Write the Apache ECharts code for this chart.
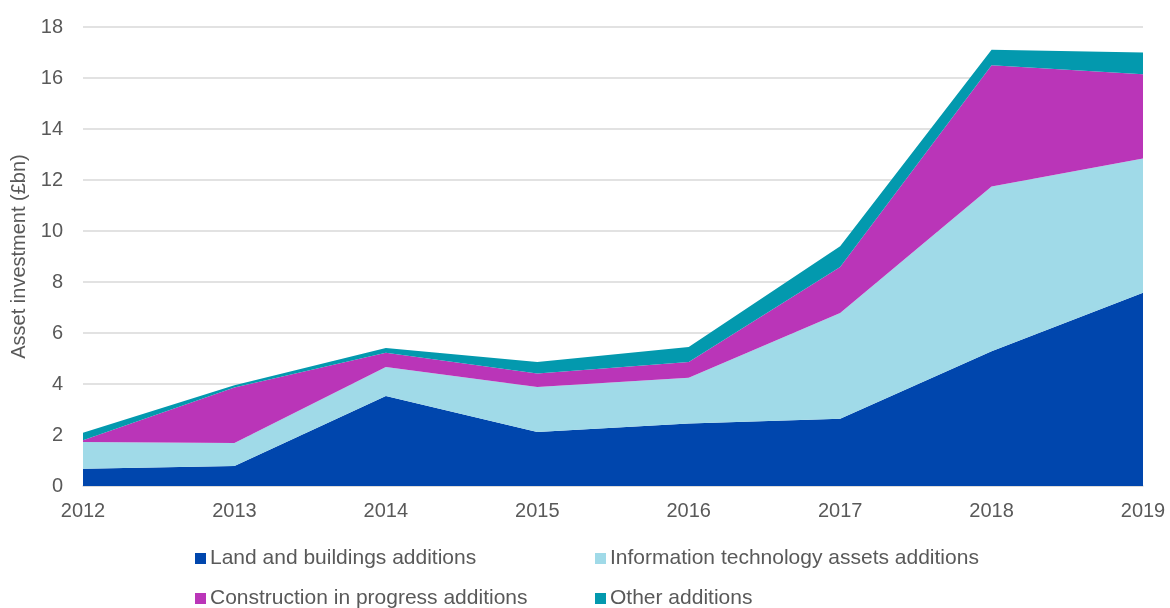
<!DOCTYPE html>
<html>
<head>
    <meta charset="utf-8">
    <title>Asset investment</title>
    <script src="https://cdn.jsdelivr.net/npm/echarts@6/dist/echarts.min.js"></script>
</head>
<body style="margin:0;">
<div id="main" style="width: 1170px;height:608px;"></div>
<script type="text/javascript">
    var years = ['2012', '2013', '2014', '2015', '2016', '2017', '2018', '2019'];
    var landBuildings = [0.68, 0.78, 3.53, 2.12, 2.45, 2.64, 5.28, 7.58];
    var itAssets = [1.05, 0.91, 1.14, 1.76, 1.80, 4.14, 6.47, 5.26];
    var construction = [0.06, 2.17, 0.56, 0.53, 0.61, 1.81, 4.75, 3.31];
    var other = [0.30, 0.09, 0.18, 0.45, 0.59, 0.81, 0.61, 0.85];

    var names = [
        'Land and buildings additions',
        'Information technology assets additions',
        'Construction in progress additions',
        'Other additions'
    ];
    var colors = ['#0046AD', '#A0DAE8', '#BA35B8', '#0399AE'];
    var values = [landBuildings, itAssets, construction, other];

    var textColor = '#595959';
    var font = 'Arial, "Liberation Sans", sans-serif';

    var chartDom = document.getElementById('main');
    var myChart = echarts.init(chartDom);

    // one legend per item so each sits where it does in the picture
    var legendPos = [[195, 548], [595, 548], [195, 588], [595, 588]];
    var legends = names.map(function (n, i) {
        return {
            data: [n],
            left: legendPos[i][0],
            top: legendPos[i][1],
            padding: 0,
            icon: 'rect',
            itemWidth: 11,
            itemHeight: 11,
            itemGap: 0,
            textStyle: { color: textColor, fontSize: 21, fontFamily: font, padding: [0, 0, 0, -1] }
        };
    });

    var option = {
        color: colors,
        animation: false,
        legend: legends,
        grid: {
            left: 83,
            right: 27,
            top: 27,
            bottom: 122,
            outerBoundsMode: 'none'
        },
        xAxis: {
            type: 'category',
            data: years,
            boundaryGap: false,
            axisLine: { lineStyle: { color: '#D9D9D9', width: 1.5 } },
            axisTick: { show: false },
            axisLabel: { color: textColor, fontSize: 20, fontFamily: font, margin: 15 }
        },
        yAxis: {
            type: 'value',
            min: 0,
            max: 18,
            interval: 2,
            name: 'Asset investment (£bn)',
            nameLocation: 'middle',
            nameGap: 52,
            nameTextStyle: { color: textColor, fontSize: 20, fontFamily: font },
            axisLine: { show: false },
            axisTick: { show: false },
            axisLabel: { color: textColor, fontSize: 20, fontFamily: font, margin: 20 },
            splitLine: { lineStyle: { color: '#D9D9D9', width: 1.5 } }
        },
        series: values.map(function (v, i) {
            return {
                name: names[i],
                type: 'line',
                stack: 'total',
                data: v,
                symbol: 'none',
                lineStyle: { width: 0 },
                areaStyle: { color: colors[i], opacity: 1 }
            };
        })
    };

    if (option && typeof option === 'object') {
        myChart.setOption(option);
    }
</script>
</body>
</html>
